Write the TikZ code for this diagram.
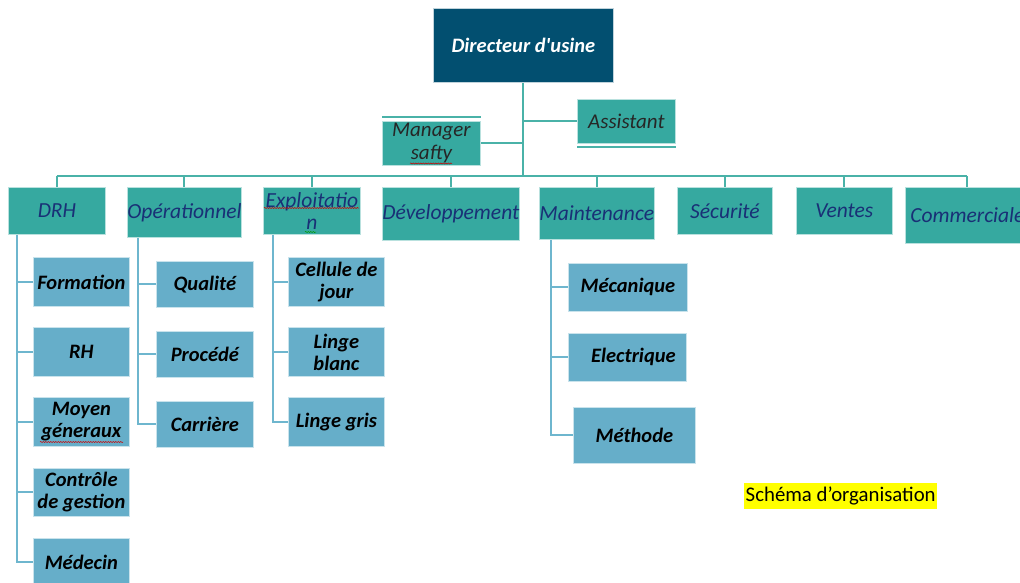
\documentclass[tikz,border=0pt]{standalone}
\usepackage{fontspec}
\setmainfont{Carlito}
\usetikzlibrary{decorations.pathmorphing}
\definecolor{dirblue}{RGB}{2,79,112}
\definecolor{tealbox}{RGB}{54,169,160}
\definecolor{tealline}{RGB}{74,178,168}
\definecolor{subblue}{RGB}{102,174,201}
\definecolor{subline}{RGB}{110,182,206}
\definecolor{navytext}{RGB}{25,48,118}
\definecolor{hl}{RGB}{255,255,0}
\tikzset{
  boxbase/.style={anchor=north west, inner sep=0pt, align=center},
  dirbox/.style={boxbase, fill=dirblue, draw=white!75!dirblue, line width=0.8pt, text=white,
    font=\bfseries\itshape\fontsize{20.5}{24}\selectfont},
  deptbox/.style={boxbase, fill=tealbox, draw=white!65!tealbox, line width=0.8pt, text=navytext,
    font=\itshape\fontsize{21.5}{22}\selectfont},
  staffbox/.style={boxbase, fill=tealbox, draw=white!65!tealbox, line width=0.8pt, text=black!85,
    font=\itshape\fontsize{21}{23}\selectfont},
  subbox/.style={boxbase, fill=subblue, draw=white!65!subblue, line width=0.8pt, text=black,
    font=\bfseries\itshape\fontsize{20.5}{22}\selectfont},
  busline/.style={draw=tealline, line width=2pt},
  subconn/.style={draw=subline, line width=2pt},
  spell/.style={draw=red!80!black, line width=0.5pt, decorate,
    decoration={snake, amplitude=0.6pt, segment length=2.5pt}},
}
\begin{document}
\begin{tikzpicture}[x=1pt, y=-1pt]
\useasboundingbox (0,0) rectangle (1020,583);
\clip (0,0) rectangle (1020,583);

% top
\node[dirbox, minimum width=180pt, minimum height=74pt] (dir) at (433,8) {Directeur d\textquotesingle usine};
\node[staffbox, minimum width=98pt, minimum height=44pt] (mgr) at (382,121) {Manager\\safty};
\node[staffbox, minimum width=98pt, minimum height=44pt] (asst) at (577,99) {Assistant};
\draw[draw=tealline, line width=2pt] (mgr.north west) ++(0,-4) coordinate (mgrbarL) -- (mgrbarL -| mgr.north east);
\draw[draw=tealline, line width=2pt] (asst.south west) ++(0,3) coordinate (asstbarL) -- (asstbarL -| asst.south east);

% departments
\node[deptbox, minimum width=97pt,  minimum height=47pt] (drh)  at (8,187)   {DRH};
\node[deptbox, minimum width=113pt, minimum height=50pt] (ope)  at (127,187) {Opérationnel};
\node[deptbox, minimum width=97pt,  minimum height=47pt] (expl) at (263,187) {Exploitatio\\n};
\node[deptbox, minimum width=135pt, minimum height=53pt] (dev)  at (382,187) {Développement};
\node[deptbox, minimum width=114pt, minimum height=52pt] (mnt)  at (539,187) {Maintenance};
\node[deptbox, minimum width=95pt,  minimum height=47pt] (sec)  at (677,187) {Sécurité};
\node[deptbox, minimum width=96pt,  minimum height=47pt] (ven)  at (796,187) {Ventes};
\node[deptbox, minimum width=124pt, minimum height=56pt] (com)  at (905,187) {Commerciale};

% bus
\coordinate (busL) at (56.5,176);
\coordinate (busR) at (967,176);
\draw[busline] (dir.south) -- (dir.south |- busL);
\draw[busline] (busL) -- (busR);
\draw[busline] (mgr.east) -- (mgr.east -| dir.south);
\draw[busline] (asst.west) -- (asst.west -| dir.south);
\foreach \d in {drh,ope,expl,dev,mnt,sec,ven,com}{
  \draw[busline] (\d.north |- busL) -- (\d.north);
}

% spine tops
\coordinate (drhS)  at ([xshift=9pt]drh.south west);
\coordinate (opeS)  at ([xshift=11pt]ope.south west);
\coordinate (explS) at ([xshift=10pt]expl.south west);
\coordinate (mntS)  at ([xshift=12pt]mnt.south west);

% DRH column
\node[subbox, minimum width=96pt, minimum height=49pt] (form) at (33,257) {Formation};
\node[subbox, minimum width=96pt, minimum height=49pt] (rh)   at (33,327) {RH};
\node[subbox, minimum width=96pt, minimum height=49pt] (moy)  at (33,397) {Moyen\\géneraux};
\node[subbox, minimum width=96pt, minimum height=48pt] (ctrl) at (33,468) {Contrôle\\de gestion};
\node[subbox, minimum width=96pt, minimum height=48pt] (med)  at (33,538) {Médecin};
\draw[subconn] (drhS) |- (med.west);
\foreach \s in {form,rh,moy,ctrl}{ \draw[subconn] (\s.west) -- (\s.west -| drhS); }

% Operationnel column
\node[subbox, minimum width=97pt, minimum height=46pt] (qual) at (156,261) {Qualité};
\node[subbox, minimum width=97pt, minimum height=46pt] (proc) at (156,331) {Procédé};
\node[subbox, minimum width=97pt, minimum height=46pt] (carr) at (156,401) {Carrière};
\draw[subconn] (opeS) |- (carr.west);
\foreach \s in {qual,proc}{ \draw[subconn] (\s.west) -- (\s.west -| opeS); }

% Exploitation column
\node[subbox, minimum width=96pt, minimum height=49pt] (cell) at (288,257) {Cellule de\\jour};
\node[subbox, minimum width=96pt, minimum height=49pt] (lb)   at (288,327) {Linge\\blanc};
\node[subbox, minimum width=96pt, minimum height=49pt] (lg)   at (288,397) {Linge gris};
\draw[subconn] (explS) |- (lg.west);
\foreach \s in {cell,lb}{ \draw[subconn] (\s.west) -- (\s.west -| explS); }

% Maintenance column
\node[subbox, minimum width=119pt, minimum height=48pt] (meca) at (568,263) {Mécanique};
\node[subbox, minimum width=118pt, minimum height=48pt] (elec) at (568,333) {\hspace*{12pt}Electrique};
\node[subbox, minimum width=122pt, minimum height=56pt] (meth) at (573,407) {Méthode};
\draw[subconn] (mntS) |- (meth.west);
\foreach \s in {meca,elec}{ \draw[subconn] (\s.west) -- (\s.west -| mntS); }

% spelling marks
\draw[spell] (410,163.5) -- (452,163.5);
\draw[spell] (264,208) -- (359,208);
\draw[spell, draw=green!60!black] (305,232) -- (316,232);
\draw[spell] (40,442) -- (123,442);

% caption
\node[anchor=north west, fill=hl, inner sep=0pt, minimum width=193pt, minimum height=26pt,
  font=\fontsize{20.8}{22}\selectfont, text=black] (cap) at (744,483) {Schéma d’organisation};
\end{tikzpicture}
\end{document}
